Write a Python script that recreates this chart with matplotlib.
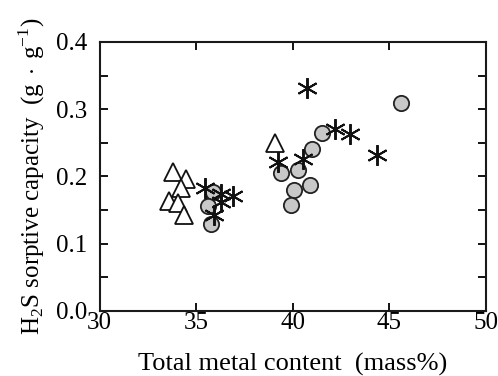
import matplotlib
matplotlib.use('Agg')
import matplotlib.pyplot as plt
from matplotlib.ticker import MultipleLocator

plt.rcParams['font.family'] = ['Liberation Serif', 'DejaVu Serif']
plt.rcParams['mathtext.fontset'] = 'custom'
plt.rcParams['mathtext.rm'] = 'Liberation Serif'

# triangles (open)
tri_x = [33.8, 34.5, 34.2, 33.6, 34.05, 34.4, 39.1]
tri_y = [0.206, 0.196, 0.183, 0.164, 0.160, 0.143, 0.250]

# circles (grey)
cir_x = [35.9, 35.64, 35.78, 39.39, 40.30, 41.03, 41.54, 40.08, 40.91, 39.91, 45.6]
cir_y = [0.177, 0.156, 0.129, 0.205, 0.209, 0.241, 0.265, 0.180, 0.187, 0.157, 0.309]

# asterisks
ast_x = [35.47, 36.3, 36.9, 36.28, 35.95, 39.26, 40.56, 40.74, 42.2, 42.98, 44.36]
ast_y = [0.183, 0.174, 0.171, 0.162, 0.143, 0.222, 0.226, 0.331, 0.270, 0.263, 0.232]

fig = plt.figure(figsize=(4.98, 3.76), dpi=100)
ax = fig.add_axes([0.1998, 0.1729, 0.7755, 0.7154])

ax.plot(tri_x, tri_y, linestyle='none', marker='^', markersize=12.5,
        markerfacecolor='white', markeredgecolor='#111111', markeredgewidth=1.3)
ax.plot(cir_x, cir_y, linestyle='none', marker='o', markersize=11,
        markerfacecolor='#c8c8c8', markeredgecolor='#222222', markeredgewidth=1.3)
ax.plot(ast_x, ast_y, linestyle='none', marker=(6, 2, 0), markersize=15,
        markeredgecolor='#111111', markeredgewidth=1.4)

ax.set_xlim(30, 50)
ax.set_ylim(0.0, 0.4)
ax.xaxis.set_major_locator(MultipleLocator(5))
ax.yaxis.set_major_locator(MultipleLocator(0.1))
ax.yaxis.set_minor_locator(MultipleLocator(0.05))
ax.yaxis.set_major_formatter(plt.FormatStrFormatter('%.1f'))

ax.tick_params(which='both', direction='in', top=True, right=True,
               width=1.3, labelsize=18)
ax.tick_params(which='major', length=6)
ax.tick_params(which='minor', length=6)
ax.tick_params(axis='x', pad=1)
ax.tick_params(axis='y', pad=9)
for s in ax.spines.values():
    s.set_linewidth(1.5)
    s.set_color('#1a1a1a')

ax.set_xlabel('Total metal content  (mass%)', fontsize=19, labelpad=13)
ax.set_ylabel(r'H$_2$S sorptive capacity  (g$\,\cdot\,$g$^{\mathregular{-1}}$)',
              fontsize=18, labelpad=6)

fig.savefig('out.png', dpi=100)
